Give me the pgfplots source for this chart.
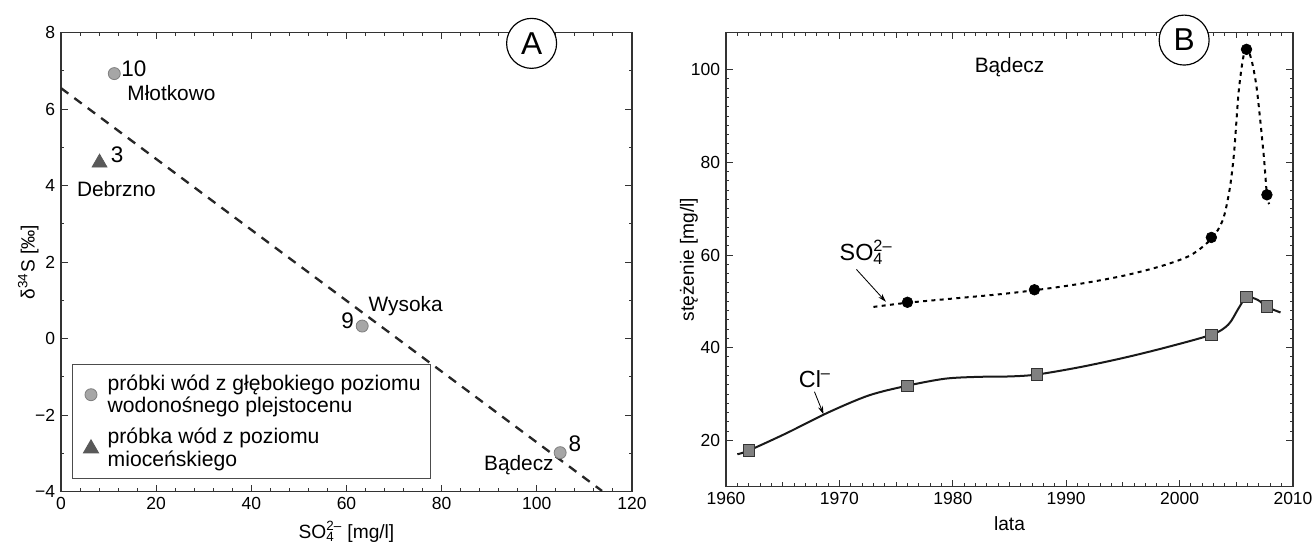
\documentclass[border=0pt]{standalone}
\usepackage{fontspec}
\setmainfont{Liberation Sans}
\usepackage{pgfplots}
\pgfplotsset{compat=1.18}
\usetikzlibrary{arrows.meta}

\newcommand{\sof}{SO\rlap{\textsubscript{4}}\textsuperscript{2–}}

\pgfplotsset{
  panel/.style={
    scale only axis,
    axis line style={line width=0.7pt, black!80},
    tick align=inside, tick pos=both,
    major tick length=4pt, minor tick length=2pt,
    every tick/.style={line width=0.6pt, black!80},
    tick label style={font=\fontsize{10.5}{12}\selectfont},
    label style={font=\fontsize{11.5}{13}\selectfont},
    /pgf/number format/assume math mode=true,
    /pgf/number format/1000 sep={},
  },
}
\tikzset{
  lbl/.style={font=\fontsize{12.5}{14}\selectfont, inner sep=0pt},
  num/.style={font=\fontsize{13.5}{16}\selectfont, inner sep=0pt},
}

\begin{document}
\begin{tikzpicture}
% ---------- panel A ----------
\begin{axis}[panel,
  at={(0,0)}, anchor=north west,
  width=342.6pt, height=275.4pt,
  xmin=0, xmax=120, ymin=-4, ymax=8,
  xtick={0,20,...,120}, minor x tick num=4,
  ytick={-4,-2,...,8}, minor y tick num=1,
  yticklabels={−4,−2,0,2,4,6,8},
  xlabel={\sof\ [mg/l]},
  ylabel={δ\textsuperscript{34}S [‰]},
  ylabel shift=-9pt,
  legend image code/.code={%
    \path[draw=none, fill=none] (-7pt,0pt) rectangle (7pt,0.1pt);
    \draw[#1] plot coordinates {(0pt,0pt)};},
  legend style={at={(axis cs:2.35,-0.66)}, anchor=north west,
    draw=black!70, line width=0.6pt, fill=white,
    font=\fontsize{12.7}{13.5}\selectfont,
    cells={anchor=west, align=left}, row sep=4pt, column sep=1pt,
    inner xsep=4pt, inner ysep=4pt},
]
\addplot[only marks, mark=*, mark size=3.6pt,
  mark options={fill=black!35, draw=black!50, line width=0.5pt}]
  coordinates {(11.2,6.93) (63.3,0.33) (104.9,-2.98)};
\addlegendentry{próbki wód z głębokiego poziomu\\wodonośnego plejstocenu}
\addplot[only marks, mark=triangle*, mark size=5.2pt,
  mark options={fill=black!65, draw=black!65}]
  coordinates {(8.1,4.6)};
\addlegendentry{próbka wód z poziomu\\mioceńskiego}
\addplot[forget plot, black!85, line width=1.4pt, dash pattern=on 5.5pt off 4.5pt]
  coordinates {(0,6.55) (113.7,-3.98)};

\node[num, anchor=west] at (axis cs:12.6,7.05) {10};
\node[lbl, anchor=west] at (axis cs:13.9,6.43) {Młotkowo};
\node[num, anchor=west] at (axis cs:10.4,4.8) {3};
\node[lbl, anchor=west] at (axis cs:3.3,3.92) {Debrzno};
\node[num, anchor=east] at (axis cs:61.6,0.48) {9};
\node[lbl, anchor=west] at (axis cs:64.6,0.84) {Wysoka};
\node[num, anchor=west] at (axis cs:106.6,-2.75) {8};
\node[lbl, anchor=east] at (axis cs:103.6,-3.3) {Bądecz};
\coordinate (cA) at (axis cs:98.9,7.72);
\end{axis}
\node[circle, draw=black, line width=0.7pt, fill=white, minimum size=30pt,
  inner sep=0pt, font=\fontsize{19}{19}\selectfont] at (cA) {A};

% ---------- panel B ----------
\begin{axis}[panel,
  at={(399pt,0)}, anchor=north west,
  width=340.2pt, height=272.4pt,
  xmin=1960, xmax=2010, ymin=10, ymax=108,
  xtick={1960,1970,...,2010}, minor x tick num=9,
  extra x ticks={1965,1975,1985,1995,2005}, extra x tick labels={},
  extra x tick style={major tick length=3pt},
  ytick={20,40,...,100}, minor y tick num=9,
  xlabel={lata},
  ylabel={stężenie [mg/l]},
  ylabel shift=-11pt,
]
% SO4 dotted curve
\addplot[smooth, black, line width=1.2pt, dash pattern=on 2.4pt off 2.6pt]
  coordinates {(1973,48.8) (1976,49.7) (1980,50.6) (1984,51.5) (1987.2,52.4)
  (1991,53.7) (1995,55.5) (1998.5,57.7) (2001,60) (2002.8,63.5) (2003.8,67.5)
  (2004.4,74) (2004.8,82) (2005.2,95) (2005.6,102.5) (2005.9,104.4)
  (2006.3,102.5) (2006.8,96) (2007.4,82) (2007.7,73) (2007.9,71)};
\addplot[only marks, mark=*, mark size=3.2pt, mark options={fill=black, draw=black}]
  coordinates {(1976,49.8) (1987.2,52.5) (2002.8,63.8) (2005.9,104.4) (2007.7,73)};
% Cl curve
\addplot[smooth, black!90, line width=1.2pt]
  coordinates {(1961,17) (1962,17.8) (1965.3,21.5) (1969,26) (1972.6,29.7)
  (1976,31.8) (1979.3,33.3) (1982.2,33.7) (1985.1,33.8) (1987.4,34.2)
  (1991,35.7) (1994.7,37.6) (1998.4,39.8) (2002.8,42.8) (2004.3,45)
  (2005.2,48.5) (2005.9,50.9) (2006.9,50.3) (2007.7,48.8) (2008.9,47.6)};
\addplot[only marks, mark=square*, mark size=3.4pt,
  mark options={fill=black!50, draw=black!80, line width=0.5pt}]
  coordinates {(1962,17.8) (1976,31.8) (1987.4,34.2) (2002.8,42.8) (2005.9,51) (2007.7,48.9)};

\node[lbl, anchor=center] at (axis cs:1985,100.5) {Bądecz};
\node[font=\fontsize{14}{16}\selectfont, inner sep=0pt, anchor=west] at (axis cs:1970,60.6) {\sof};
\draw[-{Stealth[length=5pt, width=3pt]}, line width=0.5pt] (axis cs:1971.5,56.9) -- (axis cs:1974.1,49.9);
\node[font=\fontsize{14}{16}\selectfont, inner sep=0pt, anchor=west] at (axis cs:1966.4,33.3) {Cl\textsuperscript{–}};
\draw[-{Stealth[length=5pt, width=3pt]}, line width=0.5pt] (axis cs:1967.8,30.5) -- (axis cs:1968.6,25.6);
\coordinate (cB) at (axis cs:2000.4,106.4);
\end{axis}
\node[circle, draw=black, line width=0.7pt, fill=white, minimum size=30pt,
  inner sep=0pt, font=\fontsize{19}{19}\selectfont] at (cB) {B};

\pgfresetboundingbox
\path[use as bounding box] (-36.6pt,19.6pt) rectangle (753pt,-306.8pt);
\end{tikzpicture}
\end{document}
